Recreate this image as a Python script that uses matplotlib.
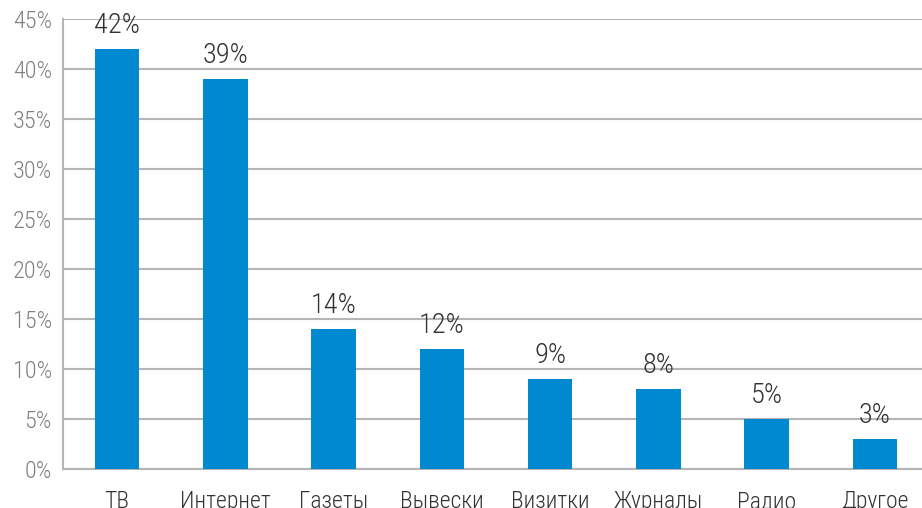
import matplotlib
matplotlib.use('Agg')
import matplotlib.pyplot as plt
from matplotlib.ticker import FuncFormatter

CATEGORIES = ['ТВ', 'Интернет', 'Газеты', 'Вывески', 'Визитки', 'Журналы', 'Радио', 'Другое']
SHARES = [42, 39, 14, 12, 9, 8, 5, 3]
Y_TICKS = [0, 5, 10, 15, 20, 25, 30, 35, 40, 45]

BAR_COLOR = '#0088d1'
GRID_COLOR = '#b5b5b5'

plt.rcParams['font.family'] = ['Roboto Condensed', 'DejaVu Sans']
plt.rcParams['font.weight'] = 300

fig = plt.figure(figsize=(9.22, 5.08), dpi=100)
ax = fig.add_axes([0.0683, 0.0768, 0.9317, 0.8858])

x = range(len(CATEGORIES))
ax.bar(x, SHARES, width=0.41, color=BAR_COLOR, zorder=3)

for xi, v in zip(x, SHARES):
    ax.annotate(f'{v}%', (xi, v), xytext=(0, 7), textcoords='offset points',
                ha='center', va='bottom', fontsize=20.5, color='#333333')

ax.set_xlim(-0.5, 7.435)
ax.set_ylim(0, 45)
ax.set_yticks(Y_TICKS)
ax.yaxis.set_major_formatter(FuncFormatter(lambda v, p: f'{v:.0f}%'))
ax.set_xticks(list(x))
ax.set_xticklabels(CATEGORIES)

ax.grid(axis='y', color=GRID_COLOR, linewidth=1.5, zorder=0)
ax.set_axisbelow(True)
for side in ['top', 'right']:
    ax.spines[side].set_visible(False)
for side in ['left', 'bottom']:
    ax.spines[side].set_color(GRID_COLOR)
    ax.spines[side].set_linewidth(1.5)

ax.tick_params(axis='y', length=0, pad=8, labelsize=17.5, labelcolor='#808080')
ax.tick_params(axis='x', length=0, pad=15, labelsize=17, labelcolor='#333333')

fig.savefig('out.png', dpi=100)
